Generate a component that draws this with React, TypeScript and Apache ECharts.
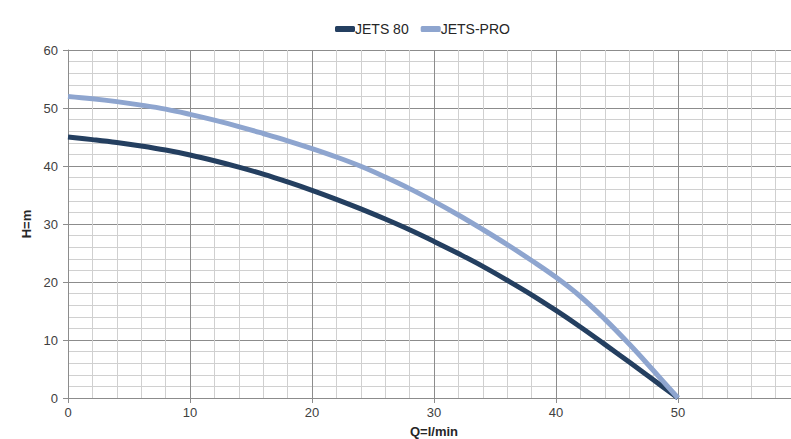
import React, { useEffect, useRef } from "react";
import * as echarts from "echarts";

const flowQ = [0, 2, 4, 6, 8, 10, 12, 14, 16, 18, 20, 22, 24, 26, 28, 30, 32, 34, 36, 38, 40, 42, 44, 46, 48, 50];
const jets80 = [45, 44.55, 44.05, 43.45, 42.75, 41.9, 40.9, 39.8, 38.6, 37.25, 35.8, 34.25, 32.6, 30.85, 29, 27, 24.9, 22.7, 20.3, 17.8, 15.1, 12.25, 9.25, 6.2, 3.1, 0];
const jetsPro = [52, 51.6, 51.1, 50.5, 49.8, 48.9, 47.9, 46.8, 45.6, 44.35, 43, 41.55, 39.95, 38.1, 36.1, 33.9, 31.55, 29.05, 26.45, 23.7, 20.8, 17.5, 13.6, 9.3, 4.7, 0];
const seriesNames = ["JETS 80", "JETS-PRO"];
const seriesColors = ["#243F60", "#8EA5CF"];

const FONT = "'Liberation Sans', Arial, sans-serif";

export default function App() {
  const ref = useRef<HTMLDivElement>(null);
  useEffect(() => {
    if (!ref.current) return;
    const chart = echarts.init(ref.current, undefined, {
      renderer: "svg",
      width: 791,
      height: 439,
    });
    const zip = (ys: number[]) => flowQ.map((q, i) => [q, ys[i]]);
    chart.setOption({
      animation: false,
      backgroundColor: "#ffffff",
      textStyle: { fontFamily: FONT },
      legend: {
        top: 17,
        left: 330,
        itemGap: 12,
        itemWidth: 20,
        itemHeight: 6,
        icon: "roundRect",
        textStyle: { fontSize: 14, color: "#262626", fontFamily: FONT, padding: [0, 0, 0, -5] },
        data: seriesNames,
      },
      grid: {
        left: 68,
        right: -9,
        top: 50,
        bottom: 41,
        containLabel: false,
        outerBoundsMode: "none",
      },
      xAxis: {
        type: "value",
        min: 0,
        max: 60,
        interval: 10,
        name: "Q=l/min",
        nameLocation: "middle",
        nameGap: 27,
        nameTextStyle: { fontWeight: "bold", fontSize: 13, color: "#262626", fontFamily: FONT },
        axisLine: { show: true, lineStyle: { color: "#8c8c8c", width: 1 } },
        axisTick: { show: true, length: 5, lineStyle: { color: "#8c8c8c" } },
        axisLabel: { fontSize: 13, color: "#404040", margin: 8, showMaxLabel: false },
        splitLine: { show: true, lineStyle: { color: "#8c8c8c", width: 1 } },
        minorTick: { show: false, splitNumber: 5 },
        minorSplitLine: { show: true, lineStyle: { color: "#d0d0d0", width: 1 } },
      },
      yAxis: {
        type: "value",
        min: 0,
        max: 60,
        interval: 10,
        name: "H=m",
        nameLocation: "middle",
        nameGap: 25,
        nameRotate: 90,
        nameTextStyle: { fontWeight: "bold", fontSize: 13, color: "#262626", fontFamily: FONT },
        axisLine: { show: true, lineStyle: { color: "#8c8c8c", width: 1 } },
        axisTick: { show: true, length: 5, lineStyle: { color: "#8c8c8c" } },
        axisLabel: { fontSize: 13, color: "#404040", margin: 10 },
        splitLine: { show: true, lineStyle: { color: "#8c8c8c", width: 1 } },
        minorTick: { show: false, splitNumber: 5 },
        minorSplitLine: { show: true, lineStyle: { color: "#d0d0d0", width: 1 } },
      },
      series: [
        {
          name: seriesNames[0],
          type: "line",
          data: zip(jets80),
          smooth: 0.4,
          showSymbol: false,
          symbol: "none",
          lineStyle: { color: seriesColors[0], width: 5 },
          itemStyle: { color: seriesColors[0] },
        },
        {
          name: seriesNames[1],
          type: "line",
          data: zip(jetsPro),
          smooth: 0.4,
          showSymbol: false,
          symbol: "none",
          lineStyle: { color: seriesColors[1], width: 5 },
          itemStyle: { color: seriesColors[1] },
        },
      ],
    });
    return () => chart.dispose();
  }, []);
  return (
    <div
      ref={ref}
      style={{ position: "absolute", left: 0, top: 0, width: 791, height: 439 }}
    />
  );
}
